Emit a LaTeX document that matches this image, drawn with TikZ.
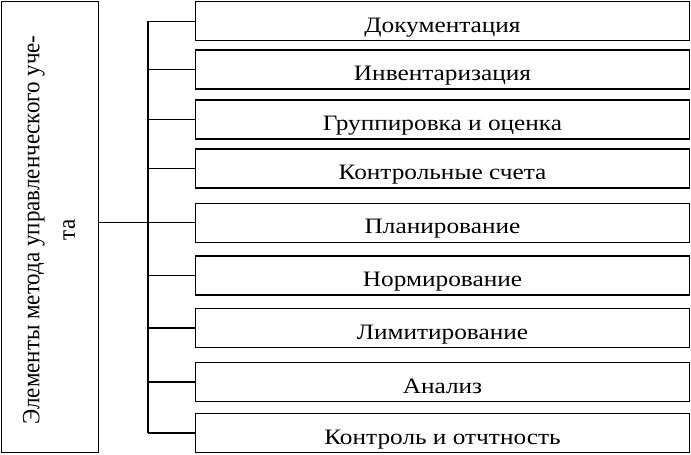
\documentclass[tikz,border=0pt]{standalone}
\usepackage{fontspec}
\usepackage{graphicx}
\setmainfont{Liberation Serif}
\newcommand{\wide}[1]{\scalebox{1.15}[1.0]{#1}}
\begin{document}
\begin{tikzpicture}[x=1pt,y=-1pt,
  item/.style={draw,line width=1.4pt,minimum width=494pt,minimum height=39pt,inner sep=0pt,font=\fontsize{22}{26}\selectfont,text depth=0pt,text height=22pt},
  link/.style={line width=1.2pt}]
\useasboundingbox (0,0) rectangle (691,455);
\node[draw,line width=1.4pt,minimum width=97pt,minimum height=451pt,inner sep=0pt] (main) at (50,227) {};
\node[rotate=90,inner sep=0pt,font=\fontsize{23}{33}\selectfont] (mt) at (50,230) {\scalebox{1}[1.08]{\begin{tabular}{@{}c@{}}Элементы метода управленческого уче-\\та\end{tabular}}};
\node[item] (b1) at (442.5,21.2) {\wide{Документация}};
\node[item] (b2) at (442.5,69.3) {\wide{Инвентаризация}};
\node[item] (b3) at (442.5,119.3) {\wide{Группировка и оценка}};
\node[item] (b4) at (442.5,168.3) {\wide{Контрольные счета}};
\node[item] (b5) at (442.5,222.7) {\wide{Планирование}};
\node[item] (b6) at (442.5,275.5) {\wide{Нормирование}};
\node[item] (b7) at (442.5,328) {\wide{Лимитирование}};
\node[item] (b8) at (442.5,382) {\wide{Анализ}};
\node[item] (b9) at (442.5,433) {\wide{Контроль и отчтность}};
\coordinate (bus) at (148,222.7);
\coordinate (top) at (148,21.2);
\coordinate (bot) at (148,433);
\draw[link] (main.east |- bus) -- (bus);
\draw[link] (top) -- (bot);
\foreach \i in {1,...,9} {\draw[link] (b\i.west -| bus) -- (b\i.west);}
\end{tikzpicture}
\end{document}
